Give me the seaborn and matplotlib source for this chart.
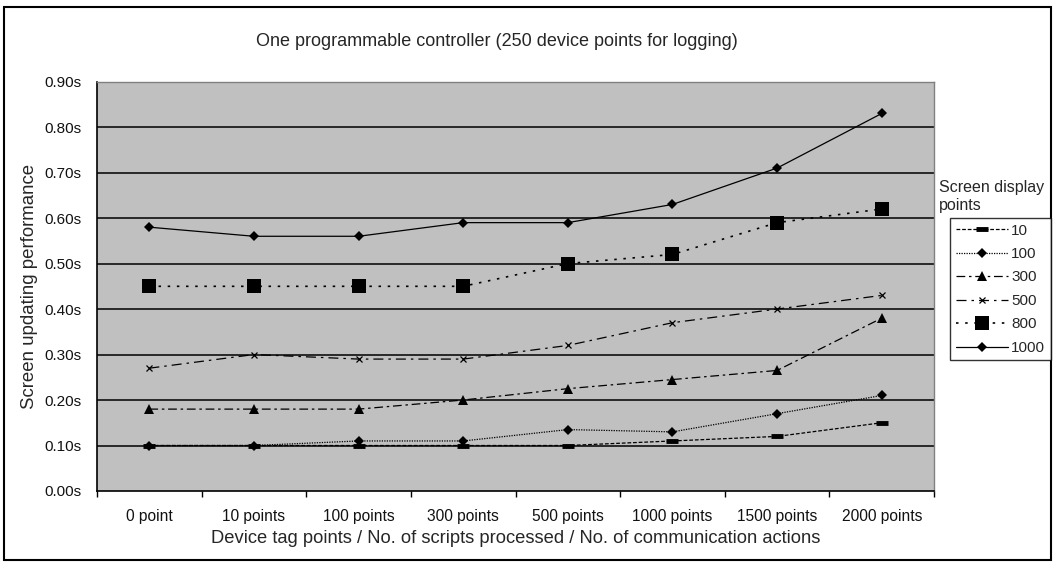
import matplotlib
matplotlib.use("Agg")
import matplotlib.pyplot as plt
from matplotlib.patches import Rectangle
from matplotlib.ticker import FixedLocator, FuncFormatter
import seaborn as sns
import pandas as pd

# Categories on the horizontal axis
categories = ["0 point", "10 points", "100 points", "300 points",
              "500 points", "1000 points", "1500 points", "2000 points"]

# Screen update time (s) per number of screen display points
pts_10 = [0.10, 0.10, 0.10, 0.10, 0.10, 0.11, 0.12, 0.15]
pts_100 = [0.10, 0.10, 0.11, 0.11, 0.135, 0.13, 0.17, 0.21]
pts_300 = [0.18, 0.18, 0.18, 0.20, 0.225, 0.245, 0.265, 0.38]
pts_500 = [0.27, 0.30, 0.29, 0.29, 0.32, 0.37, 0.40, 0.43]
pts_800 = [0.45, 0.45, 0.45, 0.45, 0.50, 0.52, 0.59, 0.62]
pts_1000 = [0.58, 0.56, 0.56, 0.59, 0.59, 0.63, 0.71, 0.83]

series_names = ["10", "100", "300", "500", "800", "1000"]
series_values = [pts_10, pts_100, pts_300, pts_500, pts_800, pts_1000]

styles = {
    "10":   dict(linestyle=(0, (3, 1.5)), marker="_", markersize=8, markeredgewidth=3.5, linewidth=0.9),
    "100":  dict(linestyle=(0, (1, 1)), marker="D", markersize=5.5, markeredgewidth=0, linewidth=0.9),
    "300":  dict(linestyle=(0, (7, 3, 2, 3)), marker="^", markersize=7, markeredgewidth=0, linewidth=0.9),
    "500":  dict(linestyle=(0, (8, 4, 2, 4)), marker="x", markersize=5, markeredgewidth=0.9, linewidth=0.9),
    "800":  dict(linestyle=(0, (1.5, 4)), marker="s", markersize=10, markeredgewidth=0, linewidth=1.2),
    "1000": dict(linestyle="-", marker="D", markersize=5.5, markeredgewidth=0, linewidth=0.9),
}

sns.set_theme(style="white")
plt.rcParams["font.family"] = ["Liberation Sans", "DejaVu Sans"]
tick_font = ["Liberation Sans Narrow", "Liberation Sans", "DejaVu Sans"]

fig = plt.figure(figsize=(10.56, 5.65), dpi=100)
fig.patch.set_facecolor("white")
ax = fig.add_axes([0.0919, 0.131, 0.7926, 0.7245])
ax.set_facecolor("#C0C0C0")

x_pos = list(range(len(categories)))
for name, vals in zip(series_names, series_values):
    df = pd.DataFrame({"x": x_pos, "y": vals})
    st = styles[name]
    sns.lineplot(data=df, x="x", y="y", ax=ax, color="black",
                 linestyle=st["linestyle"], linewidth=st["linewidth"],
                 marker=st["marker"], markersize=st["markersize"],
                 markeredgewidth=st["markeredgewidth"], markeredgecolor="black",
                 markerfacecolor="black", label=name, legend=False)

ax.set_xlim(-0.5, len(categories) - 0.5)
ax.set_ylim(0, 0.9)

# Horizontal gridlines
yt = [i / 10 for i in range(10)]
ax.yaxis.set_major_locator(FixedLocator(yt))
ax.yaxis.set_major_formatter(FuncFormatter(lambda v, p: f"{v:.2f}s"))
for v in yt[1:]:
    ax.axhline(v, color="black", linewidth=1.1, zorder=1)

ax.set_xticks(x_pos)
ax.set_xticklabels(categories)
ax.set_xticks([i - 0.5 for i in range(len(categories) + 1)], minor=True)
ax.tick_params(axis="x", which="major", length=0, pad=13, labelsize=11.2)
ax.tick_params(axis="x", which="minor", length=4, width=1, color="black", direction="out", bottom=True)
ax.tick_params(axis="y", length=0, pad=11, labelsize=11)
for lab in ax.get_xticklabels() + ax.get_yticklabels():
    lab.set_family(tick_font)
    lab.set_color("#111111")

for side in ["top", "right"]:
    ax.spines[side].set_color("#808080")
    ax.spines[side].set_linewidth(1.0)
for side in ["left", "bottom"]:
    ax.spines[side].set_color("black")
    ax.spines[side].set_linewidth(1.2)

ax.set_xlabel("Device tag points / No. of scripts processed / No. of communication actions",
              fontsize=13.2, labelpad=4)
ax.set_ylabel("Screen updating performance", fontsize=13.4, labelpad=5)

fig.text(0.4706, 0.9257, "One programmable controller (250 device points for logging)",
         ha="center", va="center", fontsize=13)

handles, labels = ax.get_legend_handles_labels()
leg = fig.legend(handles, labels, loc="upper left", bbox_to_anchor=(0.8955, 0.622),
                 frameon=True, fancybox=False, edgecolor="black", handlelength=3.45,
                 handletextpad=0.2, borderpad=0.35, labelspacing=0.62,
                 borderaxespad=0.3, prop={"family": tick_font, "size": 11})
leg.get_frame().set_linewidth(1.0)
fig.text(0.889, 0.652, "Screen display\npoints", ha="left", va="center",
         fontsize=11.5, linespacing=1.2)

# Outer chart border
fig.patches.append(Rectangle((0.004, 0.008), 0.991, 0.98, transform=fig.transFigure,
                             fill=False, edgecolor="black", linewidth=1.5))

fig.savefig("out.png", dpi=100)
